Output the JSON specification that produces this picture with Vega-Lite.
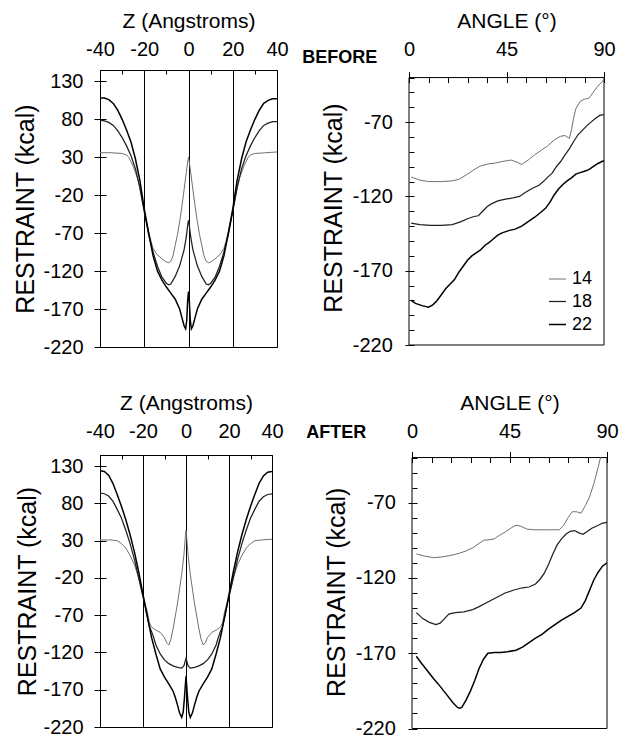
{
"$schema": "https://vega.github.io/schema/vega-lite/v6.json",
"padding": {"left": 13, "top": 10, "right": 0, "bottom": 0},
"background": "white",
"config": {
 "view": {"stroke": "black", "strokeWidth": 1},
 "font": "Liberation Sans",
 "axis": {"domainColor": "black", "tickColor": "black", "labelColor": "black", "titleColor": "black", "labelFontSize": 20, "titleFontSize": 21, "titleFontWeight": "normal", "labelFont": "Liberation Sans", "titleFont": "Liberation Sans", "grid": false, "tickWidth": 1, "domainWidth": 1, "labelFlush": false, "labelOverlap": false},
 "legend": {"labelFont": "Liberation Sans", "labelColor": "black"}
},
"datasets": {
 "zb": [
  {"z":-40,"r":36,"s":"14"},{"z":-35,"r":36,"s":"14"},{"z":-30,"r":35,"s":"14"},{"z":-28,"r":33,"s":"14"},{"z":-27,"r":30,"s":"14"},{"z":-26,"r":24,"s":"14"},{"z":-25,"r":18,"s":"14"},{"z":-24,"r":10,"s":"14"},{"z":-23,"r":2,"s":"14"},{"z":-22,"r":-10,"s":"14"},{"z":-21,"r":-25,"s":"14"},{"z":-20,"r":-40,"s":"14"},{"z":-19,"r":-55,"s":"14"},{"z":-18,"r":-68,"s":"14"},{"z":-17,"r":-80,"s":"14"},{"z":-16,"r":-90,"s":"14"},{"z":-15,"r":-95,"s":"14"},{"z":-14,"r":-99,"s":"14"},{"z":-13,"r":-101,"s":"14"},{"z":-12,"r":-104,"s":"14"},{"z":-11,"r":-106,"s":"14"},{"z":-10,"r":-108,"s":"14"},{"z":-9,"r":-109,"s":"14"},{"z":-8,"r":-107,"s":"14"},{"z":-7,"r":-100,"s":"14"},{"z":-6,"r":-86,"s":"14"},{"z":-5,"r":-72,"s":"14"},{"z":-4,"r":-55,"s":"14"},{"z":-3,"r":-35,"s":"14"},{"z":-2,"r":-13,"s":"14"},{"z":-1,"r":10,"s":"14"},{"z":-0.3,"r":25,"s":"14"},{"z":0,"r":30,"s":"14"},
  {"z":0.3,"r":25,"s":"14"},{"z":1,"r":10,"s":"14"},{"z":2,"r":-13,"s":"14"},{"z":3,"r":-35,"s":"14"},{"z":4,"r":-55,"s":"14"},{"z":5,"r":-72,"s":"14"},{"z":6,"r":-86,"s":"14"},{"z":7,"r":-100,"s":"14"},{"z":8,"r":-107,"s":"14"},{"z":9,"r":-109,"s":"14"},{"z":10,"r":-108,"s":"14"},{"z":11,"r":-106,"s":"14"},{"z":12,"r":-104,"s":"14"},{"z":13,"r":-101,"s":"14"},{"z":14,"r":-99,"s":"14"},{"z":15,"r":-95,"s":"14"},{"z":16,"r":-90,"s":"14"},{"z":17,"r":-80,"s":"14"},{"z":18,"r":-68,"s":"14"},{"z":19,"r":-55,"s":"14"},{"z":20,"r":-40,"s":"14"},{"z":21,"r":-25,"s":"14"},{"z":22,"r":-10,"s":"14"},{"z":23,"r":2,"s":"14"},{"z":24,"r":10,"s":"14"},{"z":25,"r":18,"s":"14"},{"z":26,"r":24,"s":"14"},{"z":27,"r":30,"s":"14"},{"z":28,"r":33,"s":"14"},{"z":30,"r":35,"s":"14"},{"z":35,"r":36,"s":"14"},{"z":40,"r":37,"s":"14"},
  {"z":-40,"r":79,"s":"18"},{"z":-38,"r":78,"s":"18"},{"z":-36,"r":76,"s":"18"},{"z":-34,"r":72,"s":"18"},{"z":-32,"r":65,"s":"18"},{"z":-30,"r":56,"s":"18"},{"z":-28,"r":45,"s":"18"},{"z":-26,"r":32,"s":"18"},{"z":-24,"r":15,"s":"18"},{"z":-22,"r":-10,"s":"18"},{"z":-20,"r":-42,"s":"18"},{"z":-18,"r":-72,"s":"18"},{"z":-16,"r":-95,"s":"18"},{"z":-14,"r":-114,"s":"18"},{"z":-12,"r":-128,"s":"18"},{"z":-10,"r":-136,"s":"18"},{"z":-9,"r":-138,"s":"18"},{"z":-8,"r":-137,"s":"18"},{"z":-6,"r":-127,"s":"18"},{"z":-4,"r":-113,"s":"18"},{"z":-2,"r":-92,"s":"18"},{"z":-1,"r":-75,"s":"18"},{"z":-0.3,"r":-58,"s":"18"},{"z":0,"r":-53,"s":"18"},
  {"z":0.3,"r":-58,"s":"18"},{"z":1,"r":-75,"s":"18"},{"z":2,"r":-92,"s":"18"},{"z":4,"r":-113,"s":"18"},{"z":6,"r":-127,"s":"18"},{"z":8,"r":-137,"s":"18"},{"z":9,"r":-138,"s":"18"},{"z":10,"r":-136,"s":"18"},{"z":12,"r":-128,"s":"18"},{"z":14,"r":-114,"s":"18"},{"z":16,"r":-95,"s":"18"},{"z":18,"r":-72,"s":"18"},{"z":20,"r":-42,"s":"18"},{"z":22,"r":-10,"s":"18"},{"z":24,"r":15,"s":"18"},{"z":26,"r":32,"s":"18"},{"z":28,"r":45,"s":"18"},{"z":30,"r":56,"s":"18"},{"z":32,"r":65,"s":"18"},{"z":34,"r":72,"s":"18"},{"z":36,"r":75,"s":"18"},{"z":38,"r":77,"s":"18"},{"z":40,"r":77,"s":"18"},
  {"z":-40,"r":108,"s":"22"},{"z":-38,"r":108,"s":"22"},{"z":-36,"r":106,"s":"22"},{"z":-34,"r":101,"s":"22"},{"z":-32,"r":92,"s":"22"},{"z":-30,"r":80,"s":"22"},{"z":-28,"r":66,"s":"22"},{"z":-26,"r":50,"s":"22"},{"z":-24,"r":28,"s":"22"},{"z":-22,"r":0,"s":"22"},{"z":-20,"r":-38,"s":"22"},{"z":-18,"r":-70,"s":"22"},{"z":-16,"r":-100,"s":"22"},{"z":-14,"r":-120,"s":"22"},{"z":-12,"r":-132,"s":"22"},{"z":-10,"r":-141,"s":"22"},{"z":-8,"r":-149,"s":"22"},{"z":-6,"r":-157,"s":"22"},{"z":-4,"r":-170,"s":"22"},{"z":-3,"r":-181,"s":"22"},{"z":-2,"r":-192,"s":"22"},{"z":-1.3,"r":-196,"s":"22"},{"z":-0.8,"r":-185,"s":"22"},{"z":-0.4,"r":-160,"s":"22"},{"z":0,"r":-147,"s":"22"},
  {"z":0.4,"r":-160,"s":"22"},{"z":0.8,"r":-185,"s":"22"},{"z":1.3,"r":-196,"s":"22"},{"z":2,"r":-192,"s":"22"},{"z":3,"r":-181,"s":"22"},{"z":4,"r":-170,"s":"22"},{"z":6,"r":-157,"s":"22"},{"z":8,"r":-149,"s":"22"},{"z":10,"r":-141,"s":"22"},{"z":12,"r":-132,"s":"22"},{"z":14,"r":-120,"s":"22"},{"z":16,"r":-100,"s":"22"},{"z":18,"r":-70,"s":"22"},{"z":20,"r":-38,"s":"22"},{"z":22,"r":0,"s":"22"},{"z":24,"r":28,"s":"22"},{"z":26,"r":50,"s":"22"},{"z":28,"r":66,"s":"22"},{"z":30,"r":80,"s":"22"},{"z":32,"r":92,"s":"22"},{"z":34,"r":101,"s":"22"},{"z":36,"r":105,"s":"22"},{"z":38,"r":107,"s":"22"},{"z":40,"r":107,"s":"22"}
 ],
 "za": [
  {"z":-40,"r":31,"s":"14"},{"z":-35,"r":31,"s":"14"},{"z":-32,"r":30,"s":"14"},{"z":-30,"r":26,"s":"14"},{"z":-28,"r":20,"s":"14"},{"z":-26,"r":10,"s":"14"},{"z":-24,"r":-2,"s":"14"},{"z":-22,"r":-20,"s":"14"},{"z":-20,"r":-45,"s":"14"},{"z":-18,"r":-65,"s":"14"},{"z":-17,"r":-80,"s":"14"},{"z":-16,"r":-86,"s":"14"},{"z":-15,"r":-88,"s":"14"},{"z":-14,"r":-90,"s":"14"},{"z":-12,"r":-93,"s":"14"},{"z":-10,"r":-100,"s":"14"},{"z":-9,"r":-107,"s":"14"},{"z":-8,"r":-110,"s":"14"},{"z":-7,"r":-102,"s":"14"},{"z":-6,"r":-88,"s":"14"},{"z":-4,"r":-55,"s":"14"},{"z":-2,"r":-15,"s":"14"},{"z":-1,"r":10,"s":"14"},{"z":-0.3,"r":35,"s":"14"},{"z":0,"r":44,"s":"14"},
  {"z":0.3,"r":35,"s":"14"},{"z":1,"r":10,"s":"14"},{"z":2,"r":-15,"s":"14"},{"z":4,"r":-55,"s":"14"},{"z":6,"r":-88,"s":"14"},{"z":7,"r":-102,"s":"14"},{"z":8,"r":-110,"s":"14"},{"z":9,"r":-107,"s":"14"},{"z":10,"r":-100,"s":"14"},{"z":12,"r":-93,"s":"14"},{"z":14,"r":-90,"s":"14"},{"z":15,"r":-88,"s":"14"},{"z":16,"r":-86,"s":"14"},{"z":17,"r":-80,"s":"14"},{"z":18,"r":-65,"s":"14"},{"z":20,"r":-45,"s":"14"},{"z":22,"r":-20,"s":"14"},{"z":24,"r":-2,"s":"14"},{"z":26,"r":10,"s":"14"},{"z":28,"r":20,"s":"14"},{"z":30,"r":26,"s":"14"},{"z":32,"r":30,"s":"14"},{"z":35,"r":31,"s":"14"},{"z":40,"r":32,"s":"14"},
  {"z":-40,"r":94,"s":"18"},{"z":-38,"r":93,"s":"18"},{"z":-36,"r":90,"s":"18"},{"z":-34,"r":83,"s":"18"},{"z":-32,"r":72,"s":"18"},{"z":-30,"r":60,"s":"18"},{"z":-28,"r":44,"s":"18"},{"z":-26,"r":26,"s":"18"},{"z":-24,"r":5,"s":"18"},{"z":-22,"r":-20,"s":"18"},{"z":-20,"r":-45,"s":"18"},{"z":-18,"r":-72,"s":"18"},{"z":-17,"r":-85,"s":"18"},{"z":-16,"r":-92,"s":"18"},{"z":-15,"r":-100,"s":"18"},{"z":-14,"r":-110,"s":"18"},{"z":-12,"r":-122,"s":"18"},{"z":-10,"r":-130,"s":"18"},{"z":-8,"r":-135,"s":"18"},{"z":-6,"r":-138,"s":"18"},{"z":-4,"r":-140,"s":"18"},{"z":-2,"r":-141,"s":"18"},{"z":-1,"r":-138,"s":"18"},{"z":-0.4,"r":-132,"s":"18"},{"z":0,"r":-128,"s":"18"},
  {"z":0.4,"r":-132,"s":"18"},{"z":1,"r":-138,"s":"18"},{"z":2,"r":-141,"s":"18"},{"z":4,"r":-140,"s":"18"},{"z":6,"r":-138,"s":"18"},{"z":8,"r":-135,"s":"18"},{"z":10,"r":-130,"s":"18"},{"z":12,"r":-122,"s":"18"},{"z":14,"r":-110,"s":"18"},{"z":15,"r":-100,"s":"18"},{"z":16,"r":-92,"s":"18"},{"z":17,"r":-85,"s":"18"},{"z":18,"r":-72,"s":"18"},{"z":20,"r":-45,"s":"18"},{"z":22,"r":-20,"s":"18"},{"z":24,"r":5,"s":"18"},{"z":26,"r":26,"s":"18"},{"z":28,"r":44,"s":"18"},{"z":30,"r":60,"s":"18"},{"z":32,"r":72,"s":"18"},{"z":34,"r":83,"s":"18"},{"z":36,"r":89,"s":"18"},{"z":38,"r":92,"s":"18"},{"z":40,"r":93,"s":"18"},
  {"z":-40,"r":124,"s":"22"},{"z":-38,"r":123,"s":"22"},{"z":-36,"r":118,"s":"22"},{"z":-34,"r":107,"s":"22"},{"z":-32,"r":92,"s":"22"},{"z":-30,"r":76,"s":"22"},{"z":-28,"r":58,"s":"22"},{"z":-26,"r":38,"s":"22"},{"z":-24,"r":15,"s":"22"},{"z":-22,"r":-12,"s":"22"},{"z":-20,"r":-42,"s":"22"},{"z":-18,"r":-72,"s":"22"},{"z":-16,"r":-100,"s":"22"},{"z":-14,"r":-122,"s":"22"},{"z":-12,"r":-142,"s":"22"},{"z":-10,"r":-153,"s":"22"},{"z":-8,"r":-162,"s":"22"},{"z":-6,"r":-172,"s":"22"},{"z":-5,"r":-180,"s":"22"},{"z":-4,"r":-190,"s":"22"},{"z":-3,"r":-201,"s":"22"},{"z":-2,"r":-207,"s":"22"},{"z":-1.3,"r":-200,"s":"22"},{"z":-0.7,"r":-180,"s":"22"},{"z":0,"r":-152,"s":"22"},
  {"z":0.7,"r":-180,"s":"22"},{"z":1.3,"r":-200,"s":"22"},{"z":2,"r":-207,"s":"22"},{"z":3,"r":-201,"s":"22"},{"z":4,"r":-190,"s":"22"},{"z":5,"r":-180,"s":"22"},{"z":6,"r":-172,"s":"22"},{"z":8,"r":-162,"s":"22"},{"z":10,"r":-153,"s":"22"},{"z":12,"r":-142,"s":"22"},{"z":14,"r":-122,"s":"22"},{"z":16,"r":-100,"s":"22"},{"z":18,"r":-72,"s":"22"},{"z":20,"r":-42,"s":"22"},{"z":22,"r":-12,"s":"22"},{"z":24,"r":15,"s":"22"},{"z":26,"r":38,"s":"22"},{"z":28,"r":58,"s":"22"},{"z":30,"r":76,"s":"22"},{"z":32,"r":92,"s":"22"},{"z":34,"r":107,"s":"22"},{"z":36,"r":117,"s":"22"},{"z":38,"r":122,"s":"22"},{"z":40,"r":123,"s":"22"}
 ],
 "ab": [
  {"a":1,"r":-107,"s":"14"},{"a":5,"r":-109,"s":"14"},{"a":9,"r":-110,"s":"14"},{"a":15,"r":-110,"s":"14"},{"a":20,"r":-109.5,"s":"14"},{"a":23,"r":-108.5,"s":"14"},{"a":27,"r":-105,"s":"14"},{"a":30,"r":-102,"s":"14"},{"a":33,"r":-99.5,"s":"14"},{"a":37,"r":-98,"s":"14"},{"a":40,"r":-97.5,"s":"14"},{"a":43,"r":-96.5,"s":"14"},{"a":47,"r":-95.5,"s":"14"},{"a":50,"r":-97,"s":"14"},{"a":52,"r":-98.5,"s":"14"},{"a":55,"r":-95.5,"s":"14"},{"a":58,"r":-92,"s":"14"},{"a":61,"r":-89,"s":"14"},{"a":64,"r":-86,"s":"14"},{"a":67,"r":-82,"s":"14"},{"a":70,"r":-79.5,"s":"14"},{"a":72,"r":-79,"s":"14"},{"a":74,"r":-81,"s":"14"},{"a":75,"r":-75,"s":"14"},{"a":76,"r":-67,"s":"14"},{"a":77,"r":-61,"s":"14"},{"a":79,"r":-56,"s":"14"},{"a":81,"r":-54.5,"s":"14"},{"a":83,"r":-54,"s":"14"},{"a":85,"r":-50,"s":"14"},{"a":87,"r":-46,"s":"14"},{"a":89,"r":-43,"s":"14"},{"a":90,"r":-41,"s":"14"},
  {"a":1,"r":-138,"s":"18"},{"a":5,"r":-139,"s":"18"},{"a":10,"r":-139.5,"s":"18"},{"a":15,"r":-139.5,"s":"18"},{"a":20,"r":-139,"s":"18"},{"a":24,"r":-137,"s":"18"},{"a":27,"r":-135,"s":"18"},{"a":30,"r":-133.5,"s":"18"},{"a":32,"r":-133,"s":"18"},{"a":34,"r":-130,"s":"18"},{"a":36,"r":-127,"s":"18"},{"a":38,"r":-125,"s":"18"},{"a":41,"r":-123,"s":"18"},{"a":44,"r":-122,"s":"18"},{"a":48,"r":-121,"s":"18"},{"a":51,"r":-120,"s":"18"},{"a":54,"r":-117,"s":"18"},{"a":57,"r":-114.5,"s":"18"},{"a":60,"r":-112.5,"s":"18"},{"a":62,"r":-110,"s":"18"},{"a":64,"r":-107,"s":"18"},{"a":66,"r":-104.5,"s":"18"},{"a":68,"r":-100,"s":"18"},{"a":70,"r":-96.5,"s":"18"},{"a":72,"r":-92,"s":"18"},{"a":74,"r":-88,"s":"18"},{"a":76,"r":-83,"s":"18"},{"a":78,"r":-78.5,"s":"18"},{"a":80,"r":-75.5,"s":"18"},{"a":82,"r":-72.5,"s":"18"},{"a":84,"r":-70,"s":"18"},{"a":86,"r":-67.5,"s":"18"},{"a":88,"r":-65.5,"s":"18"},{"a":90,"r":-65,"s":"18"},
  {"a":1,"r":-190,"s":"22"},{"a":3,"r":-192,"s":"22"},{"a":6,"r":-193.5,"s":"22"},{"a":9,"r":-194.5,"s":"22"},{"a":11,"r":-193,"s":"22"},{"a":13,"r":-190,"s":"22"},{"a":15,"r":-186,"s":"22"},{"a":17,"r":-182,"s":"22"},{"a":19,"r":-179,"s":"22"},{"a":21,"r":-176,"s":"22"},{"a":23,"r":-171,"s":"22"},{"a":25,"r":-167,"s":"22"},{"a":27,"r":-163,"s":"22"},{"a":29,"r":-160,"s":"22"},{"a":31,"r":-158,"s":"22"},{"a":33,"r":-156,"s":"22"},{"a":35,"r":-153,"s":"22"},{"a":37,"r":-151,"s":"22"},{"a":39,"r":-148.5,"s":"22"},{"a":41,"r":-146,"s":"22"},{"a":43,"r":-144.5,"s":"22"},{"a":46,"r":-143,"s":"22"},{"a":49,"r":-142,"s":"22"},{"a":52,"r":-140,"s":"22"},{"a":55,"r":-137,"s":"22"},{"a":58,"r":-134,"s":"22"},{"a":61,"r":-130.5,"s":"22"},{"a":63,"r":-128,"s":"22"},{"a":65,"r":-124,"s":"22"},{"a":67,"r":-119,"s":"22"},{"a":69,"r":-115,"s":"22"},{"a":71,"r":-112,"s":"22"},{"a":73,"r":-109.5,"s":"22"},{"a":75,"r":-107.5,"s":"22"},{"a":77,"r":-105,"s":"22"},{"a":79,"r":-104,"s":"22"},{"a":81,"r":-103,"s":"22"},{"a":83,"r":-102,"s":"22"},{"a":85,"r":-100,"s":"22"},{"a":87,"r":-98,"s":"22"},{"a":89,"r":-96.5,"s":"22"},{"a":90,"r":-96,"s":"22"}
 ],
 "aa": [
  {"a":2,"r":-104,"s":"14"},{"a":6,"r":-105.5,"s":"14"},{"a":10,"r":-106.5,"s":"14"},{"a":14,"r":-106,"s":"14"},{"a":18,"r":-105,"s":"14"},{"a":22,"r":-103.5,"s":"14"},{"a":25,"r":-102,"s":"14"},{"a":28,"r":-100,"s":"14"},{"a":31,"r":-97,"s":"14"},{"a":33,"r":-95,"s":"14"},{"a":36,"r":-94.5,"s":"14"},{"a":38,"r":-94,"s":"14"},{"a":40,"r":-92,"s":"14"},{"a":43,"r":-89.5,"s":"14"},{"a":46,"r":-86.5,"s":"14"},{"a":48,"r":-85,"s":"14"},{"a":50,"r":-85.5,"s":"14"},{"a":53,"r":-87.5,"s":"14"},{"a":56,"r":-88,"s":"14"},{"a":60,"r":-88,"s":"14"},{"a":64,"r":-88,"s":"14"},{"a":68,"r":-88,"s":"14"},{"a":70,"r":-85,"s":"14"},{"a":72,"r":-80,"s":"14"},{"a":74,"r":-76,"s":"14"},{"a":76,"r":-76,"s":"14"},{"a":78,"r":-77,"s":"14"},{"a":80,"r":-72,"s":"14"},{"a":82,"r":-66,"s":"14"},{"a":84,"r":-57,"s":"14"},{"a":86,"r":-46,"s":"14"},{"a":87,"r":-40,"s":"14"},
  {"a":2,"r":-143,"s":"18"},{"a":5,"r":-147,"s":"18"},{"a":8,"r":-149.5,"s":"18"},{"a":11,"r":-151,"s":"18"},{"a":13,"r":-150,"s":"18"},{"a":15,"r":-147,"s":"18"},{"a":17,"r":-144,"s":"18"},{"a":20,"r":-143,"s":"18"},{"a":24,"r":-142.5,"s":"18"},{"a":28,"r":-141,"s":"18"},{"a":31,"r":-139,"s":"18"},{"a":35,"r":-136,"s":"18"},{"a":39,"r":-133,"s":"18"},{"a":43,"r":-130,"s":"18"},{"a":47,"r":-128,"s":"18"},{"a":51,"r":-126.5,"s":"18"},{"a":54,"r":-126,"s":"18"},{"a":57,"r":-124,"s":"18"},{"a":59,"r":-121,"s":"18"},{"a":61,"r":-117,"s":"18"},{"a":63,"r":-111,"s":"18"},{"a":65,"r":-104,"s":"18"},{"a":67,"r":-98,"s":"18"},{"a":69,"r":-94,"s":"18"},{"a":71,"r":-91,"s":"18"},{"a":73,"r":-89,"s":"18"},{"a":75,"r":-88.5,"s":"18"},{"a":77,"r":-90,"s":"18"},{"a":79,"r":-91,"s":"18"},{"a":81,"r":-89,"s":"18"},{"a":83,"r":-87,"s":"18"},{"a":86,"r":-85,"s":"18"},{"a":88,"r":-83.5,"s":"18"},{"a":90,"r":-83,"s":"18"},
  {"a":2,"r":-172,"s":"22"},{"a":4,"r":-176,"s":"22"},{"a":7,"r":-181.5,"s":"22"},{"a":10,"r":-187,"s":"22"},{"a":13,"r":-192,"s":"22"},{"a":16,"r":-197.5,"s":"22"},{"a":19,"r":-203,"s":"22"},{"a":21,"r":-206,"s":"22"},{"a":22,"r":-206.5,"s":"22"},{"a":23,"r":-206,"s":"22"},{"a":25,"r":-201,"s":"22"},{"a":27,"r":-195,"s":"22"},{"a":29,"r":-188,"s":"22"},{"a":31,"r":-180,"s":"22"},{"a":33,"r":-174,"s":"22"},{"a":35,"r":-170,"s":"22"},{"a":38,"r":-169.5,"s":"22"},{"a":41,"r":-169.5,"s":"22"},{"a":44,"r":-169,"s":"22"},{"a":48,"r":-168,"s":"22"},{"a":51,"r":-166,"s":"22"},{"a":54,"r":-163,"s":"22"},{"a":57,"r":-160,"s":"22"},{"a":60,"r":-157.5,"s":"22"},{"a":63,"r":-154,"s":"22"},{"a":66,"r":-151,"s":"22"},{"a":69,"r":-148,"s":"22"},{"a":72,"r":-145.5,"s":"22"},{"a":75,"r":-143,"s":"22"},{"a":78,"r":-140,"s":"22"},{"a":80,"r":-135,"s":"22"},{"a":82,"r":-128,"s":"22"},{"a":84,"r":-121,"s":"22"},{"a":86,"r":-116,"s":"22"},{"a":88,"r":-112,"s":"22"},{"a":90,"r":-110,"s":"22"}
 ]
},
"spacing": 34,
"resolve": {"scale": {"color": "independent", "strokeWidth": "independent"}, "legend": {"color": "independent", "strokeWidth": "independent"}},
"vconcat": [
 {
  "spacing": 13,
  "resolve": {"scale": {"color": "independent", "strokeWidth": "independent"}, "legend": {"color": "independent", "strokeWidth": "independent"}},
  "hconcat": [
   {
    "width": 177, "height": 277,
    "resolve": {"axis": {"x": "independent", "y": "independent"}},
    "layer": [
     {
      "data": {"name": "zb"},
      "mark": {"type": "line", "clip": true},
      "encoding": {
       "x": {"field": "z", "type": "quantitative", "scale": {"domain": [-40, 40], "nice": false, "zero": false}, "axis": {"orient": "top", "values": [-40, -20, 0, 20, 40], "labelExpr": "toString(datum.value)", "title": "Z (Angstroms)", "grid": true, "gridColor": "black", "gridOpacity": 1, "ticks": false, "labelPadding": 10.3, "titlePadding": 8}},
       "y": {"field": "r", "type": "quantitative", "scale": {"domain": [-220, 145], "nice": false, "zero": false}, "axis": {"orient": "left", "values": [-220, -170, -120, -70, -20, 30, 80, 130], "labelExpr": "toString(datum.value)", "title": "RESTRAINT (kcal)", "titleFontSize": 25, "tickSize": 6, "labelPadding": 11, "titlePadding": 4}},
       "color": {"field": "s", "type": "ordinal", "scale": {"domain": ["14", "18", "22"], "range": ["#707070", "#202020", "#000000"]}, "legend": null},
       "strokeWidth": {"field": "s", "type": "ordinal", "scale": {"domain": ["14", "18", "22"], "range": [1, 1.5, 2.6]}, "legend": null}
      }
     },
     {
      "data": {"name": "zb"},
      "mark": {"type": "point", "opacity": 0},
      "encoding": {
       "x": {"field": "z", "type": "quantitative", "scale": {"domain": [-40, 40], "nice": false, "zero": false}, "axis": {"orient": "top", "values": [-30, -10, 10, 30], "tickSize": -4, "labels": false, "domain": false, "title": null, "grid": false}},
       "y": {"field": "r", "type": "quantitative", "scale": {"domain": [-220, 145], "nice": false, "zero": false}, "axis": {"orient": "left", "values": [-220, -170, -120, -70, -20, 30, 80, 130], "tickSize": -6, "labels": false, "domain": false, "title": null, "grid": false}}
      }
     }
    ]
   },
   {
    "width": 195, "height": 275,
    "view": {"stroke": null},
    "resolve": {"axis": {"x": "independent", "y": "independent"}},
    "layer": [
     {
      "data": {"values": [{"part": "frame"}]},
      "mark": {"type": "rect", "filled": false, "stroke": "black", "strokeWidth": 1},
      "encoding": {
       "x": {"datum": 0, "type": "quantitative", "scale": {"domain": [0, 90], "nice": false, "zero": false}, "axis": null},
       "x2": {"datum": 90},
       "y": {"datum": -220, "type": "quantitative", "scale": {"domain": [-220, -34.9], "nice": false, "zero": false}, "axis": null},
       "y2": {"datum": -40}
      }
     },
     {
      "data": {"name": "ab"},
      "mark": {"type": "line", "clip": true},
      "encoding": {
       "x": {"field": "a", "type": "quantitative", "scale": {"domain": [0, 90], "nice": false, "zero": false}, "axis": {"orient": "top", "offset": -7.6, "domain": false, "values": [0, 45, 90], "labelExpr": "toString(datum.value)", "title": "ANGLE (°)", "tickSize": 6, "labelPadding": 11.9, "titlePadding": 8}},
       "y": {"field": "r", "type": "quantitative", "scale": {"domain": [-220, -34.9], "nice": false, "zero": false}, "axis": {"orient": "left", "domain": false, "values": [-220, -170, -120, -70], "labelExpr": "toString(datum.value)", "title": "RESTRAINT (kcal)", "titleFontSize": 25, "tickSize": 4, "labelPadding": 12.7, "titlePadding": 6}},
       "color": {"field": "s", "type": "ordinal", "scale": {"domain": ["14", "18", "22"], "range": ["#707070", "#202020", "#000000"]}, "legend": {"orient": "bottom-right", "title": null, "offset": 11, "padding": 0, "symbolType": "stroke", "symbolSize": 289, "labelFontSize": 18, "labelOffset": 5, "rowPadding": 4}},
       "strokeWidth": {"field": "s", "type": "ordinal", "scale": {"domain": ["14", "18", "22"], "range": [1, 1.5, 2.6]}, "legend": {"orient": "bottom-right", "title": null, "offset": 11, "padding": 0, "symbolType": "stroke", "symbolSize": 289, "labelFontSize": 18, "labelOffset": 5, "rowPadding": 4}}
      }
     },
     {
      "data": {"name": "ab"},
      "mark": {"type": "point", "opacity": 0},
      "encoding": {
       "x": {"field": "a", "type": "quantitative", "scale": {"domain": [0, 90], "nice": false, "zero": false}, "axis": {"orient": "top", "offset": -7.6, "values": [0, 9, 18, 27, 36, 45, 54, 63, 72, 81, 90], "tickSize": -5, "labels": false, "domain": false, "title": null, "grid": false}},
       "y": {"field": "r", "type": "quantitative", "scale": {"domain": [-220, -34.9], "nice": false, "zero": false}, "axis": {"orient": "left", "values": [-220, -210, -200, -190, -180, -170, -160, -150, -140, -130, -120, -110, -100, -90, -80, -70, -60, -50, -40], "tickSize": -5, "labels": false, "domain": false, "title": null, "grid": false}}
      }
     },
     {
      "data": {"values": [{"label": "BEFORE"}]},
      "mark": {"type": "text", "font": "Liberation Sans", "fontWeight": "bold", "fontSize": 18, "align": "center", "baseline": "middle", "color": "black"},
      "encoding": {
       "x": {"datum": -32, "type": "quantitative", "scale": {"domain": [0, 90], "nice": false, "zero": false}, "axis": null},
       "y": {"datum": -27, "type": "quantitative", "scale": {"domain": [-220, -34.9], "nice": false, "zero": false}, "axis": null},
       "text": {"field": "label"}
      }
     }
    ]
   }
  ]
 },
 {
  "spacing": 22,
  "resolve": {"scale": {"color": "independent", "strokeWidth": "independent"}, "legend": {"color": "independent", "strokeWidth": "independent"}},
  "hconcat": [
   {
    "width": 172, "height": 272,
    "resolve": {"axis": {"x": "independent", "y": "independent"}},
    "layer": [
     {
      "data": {"name": "za"},
      "mark": {"type": "line", "clip": true},
      "encoding": {
       "x": {"field": "z", "type": "quantitative", "scale": {"domain": [-40, 40], "nice": false, "zero": false}, "axis": {"orient": "top", "values": [-40, -20, 0, 20, 40], "labelExpr": "toString(datum.value)", "title": "Z (Angstroms)", "grid": true, "gridColor": "black", "gridOpacity": 1, "ticks": false, "labelPadding": 13.3, "titlePadding": 8}},
       "y": {"field": "r", "type": "quantitative", "scale": {"domain": [-220, 145], "nice": false, "zero": false}, "axis": {"orient": "left", "values": [-220, -170, -120, -70, -20, 30, 80, 130], "labelExpr": "toString(datum.value)", "title": "RESTRAINT (kcal)", "titleFontSize": 25, "tickSize": 6, "labelPadding": 11, "titlePadding": 2}},
       "color": {"field": "s", "type": "ordinal", "scale": {"domain": ["14", "18", "22"], "range": ["#707070", "#202020", "#000000"]}, "legend": null},
       "strokeWidth": {"field": "s", "type": "ordinal", "scale": {"domain": ["14", "18", "22"], "range": [1, 1.5, 2.6]}, "legend": null}
      }
     },
     {
      "data": {"name": "za"},
      "mark": {"type": "point", "opacity": 0},
      "encoding": {
       "x": {"field": "z", "type": "quantitative", "scale": {"domain": [-40, 40], "nice": false, "zero": false}, "axis": {"orient": "top", "values": [-30, -10, 10, 30], "tickSize": -4, "labels": false, "domain": false, "title": null, "grid": false}},
       "y": {"field": "r", "type": "quantitative", "scale": {"domain": [-220, 145], "nice": false, "zero": false}, "axis": {"orient": "left", "values": [-220, -170, -120, -70, -20, 30, 80, 130], "tickSize": -6, "labels": false, "domain": false, "title": null, "grid": false}}
      }
     }
    ]
   },
   {
    "width": 195, "height": 273.5,
    "view": {"stroke": null},
    "resolve": {"axis": {"x": "independent", "y": "independent"}},
    "layer": [
     {
      "data": {"values": [{"part": "frame"}]},
      "mark": {"type": "rect", "filled": false, "stroke": "black", "strokeWidth": 1},
      "encoding": {
       "x": {"datum": 0, "type": "quantitative", "scale": {"domain": [0, 90], "nice": false, "zero": false}, "axis": null},
       "x2": {"datum": 90},
       "y": {"datum": -220, "type": "quantitative", "scale": {"domain": [-220, -38.3], "nice": false, "zero": false}, "axis": null},
       "y2": {"datum": -40}
      }
     },
     {
      "data": {"name": "aa"},
      "mark": {"type": "line", "clip": true},
      "encoding": {
       "x": {"field": "a", "type": "quantitative", "scale": {"domain": [0, 90], "nice": false, "zero": false}, "axis": {"orient": "top", "offset": -2.5, "domain": false, "values": [0, 45, 90], "labelExpr": "toString(datum.value)", "title": "ANGLE (°)", "tickSize": 6, "labelPadding": 10, "titlePadding": 8}},
       "y": {"field": "r", "type": "quantitative", "scale": {"domain": [-220, -38.3], "nice": false, "zero": false}, "axis": {"orient": "left", "domain": false, "values": [-220, -170, -120, -70], "labelExpr": "toString(datum.value)", "title": "RESTRAINT (kcal)", "titleFontSize": 25, "tickSize": 4, "labelPadding": 12.7, "titlePadding": 6}},
       "color": {"field": "s", "type": "ordinal", "scale": {"domain": ["14", "18", "22"], "range": ["#707070", "#202020", "#000000"]}, "legend": null},
       "strokeWidth": {"field": "s", "type": "ordinal", "scale": {"domain": ["14", "18", "22"], "range": [1, 1.5, 2.6]}, "legend": null}
      }
     },
     {
      "data": {"name": "aa"},
      "mark": {"type": "point", "opacity": 0},
      "encoding": {
       "x": {"field": "a", "type": "quantitative", "scale": {"domain": [0, 90], "nice": false, "zero": false}, "axis": {"orient": "top", "offset": -2.5, "values": [0, 9, 18, 27, 36, 45, 54, 63, 72, 81, 90], "tickSize": -5, "labels": false, "domain": false, "title": null, "grid": false}},
       "y": {"field": "r", "type": "quantitative", "scale": {"domain": [-220, -38.3], "nice": false, "zero": false}, "axis": {"orient": "left", "values": [-220, -210, -200, -190, -180, -170, -160, -150, -140, -130, -120, -110, -100, -90, -80, -70, -60, -50, -40], "tickSize": -5, "labels": false, "domain": false, "title": null, "grid": false}}
      }
     },
     {
      "data": {"values": [{"label": "AFTER"}]},
      "mark": {"type": "text", "font": "Liberation Sans", "fontWeight": "bold", "fontSize": 18, "align": "center", "baseline": "middle", "color": "black"},
      "encoding": {
       "x": {"datum": -35, "type": "quantitative", "scale": {"domain": [0, 90], "nice": false, "zero": false}, "axis": null},
       "y": {"datum": -23.8, "type": "quantitative", "scale": {"domain": [-220, -38.3], "nice": false, "zero": false}, "axis": null},
       "text": {"field": "label"}
      }
     }
    ]
   }
  ]
 }
]
}
